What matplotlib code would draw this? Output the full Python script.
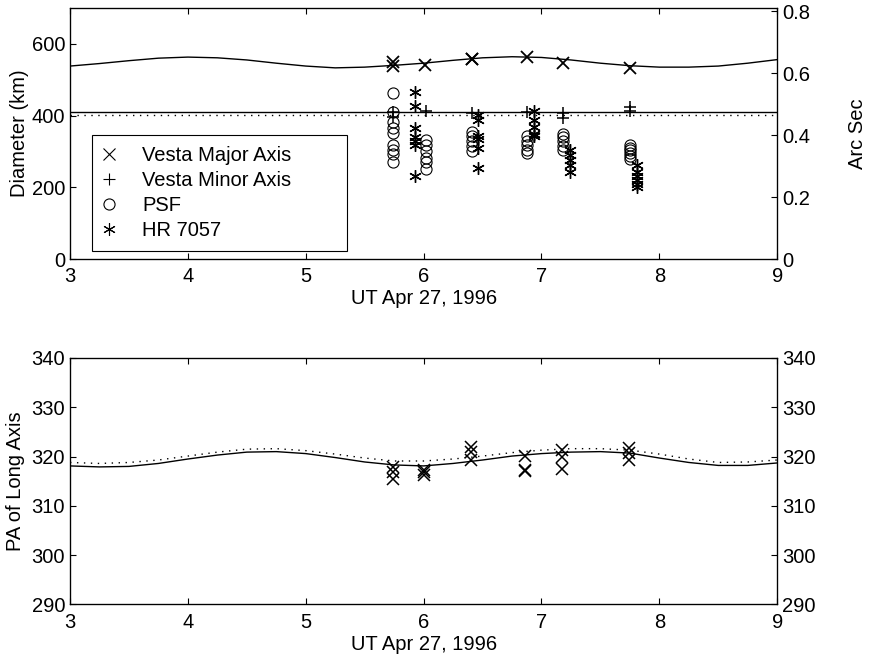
import matplotlib
matplotlib.use("Agg")
import matplotlib.pyplot as plt

plt.rcParams['font.family'] = ['Liberation Sans', 'DejaVu Sans']
plt.rcParams['font.size'] = 14.5

# ---- top panel: diameters (km) vs UT hours ----
model_x = [3.0, 3.25, 3.5, 3.75, 4.0, 4.25, 4.5, 4.75, 5.0, 5.25, 5.5, 5.75, 6.0,
           6.25, 6.5, 6.75, 7.0, 7.25, 7.5, 7.75, 8.0, 8.25, 8.5, 8.75, 9.0]
major_model = [538, 545, 553, 560, 563, 561, 555, 546, 538, 533, 535, 540, 546,
               554, 561, 564, 562, 555, 546, 539, 535, 535, 538, 546, 556]
minor_model = [409] * len(model_x)
minor_mean = [403] * len(model_x)

major_t = [5.74, 5.74, 6.01, 6.41, 6.41, 6.88, 7.18, 7.75]
major_d = [549, 539, 541, 557, 559, 564, 546, 532]

minor_t = [5.74, 5.74, 6.02, 6.41, 6.88, 7.18, 7.18, 7.75, 7.75]
minor_d = [411, 395, 414, 408, 410, 407, 393, 424, 413]

psf_t = [5.74] * 9 + [6.02] * 6 + [6.41] * 5 + [6.88] * 5 + [7.18] * 5 + [7.75] * 6
psf_d = [462, 411, 383, 364, 351, 318, 305, 292, 271,
         332, 318, 300, 283, 270, 252,
         355, 342, 330, 315, 302,
         342, 330, 318, 305, 296,
         350, 340, 328, 316, 304,
         318, 311, 303, 295, 288, 280]

hr_t = [5.93] * 7 + [6.46] * 6 + [6.94] * 5 + [7.24] * 5 + [7.81] * 6
hr_d = [467, 427, 366, 339, 328, 319, 231,
        402, 388, 343, 336, 311, 253,
        414, 388, 369, 350, 343,
        304, 290, 276, 262, 244,
        262, 244, 232, 220, 210, 200]

# ---- bottom panel: position angle of long axis ----
pa_model = [318.1, 317.9, 318.0, 318.6, 319.5, 320.3, 320.9, 321.0, 320.6, 319.8,
            318.9, 318.3, 318.1, 318.6, 319.3, 320.1, 320.6, 320.9, 321.0, 320.7,
            319.7, 318.8, 318.2, 318.2, 318.7]
pa_model2 = [318.8, 318.6, 318.8, 319.3, 320.1, 320.9, 321.5, 321.6, 321.2, 320.5,
             319.7, 319.1, 319.1, 319.5, 320.1, 320.8, 321.3, 321.6, 321.6, 321.3,
             320.5, 319.5, 318.8, 318.9, 319.3]
pa_t = [5.74, 5.74, 5.74, 6.0, 6.0, 6.0, 6.40, 6.40, 6.40, 6.86, 6.86, 6.86,
        7.17, 7.17, 7.17, 7.74, 7.74, 7.74]
pa_v = [317.8, 316.8, 315.5, 317.3, 316.8, 316.3, 322.0, 321.0, 319.4, 320.1, 317.1, 317.3,
        321.3, 320.0, 317.4, 321.8, 320.8, 319.4]

asterisk = (6, 2, 0)
xticks = [3, 4, 5, 6, 7, 8, 9]


def style_axes(ax):
    ax.set_xlim(3, 9)
    ax.set_xticks(xticks)
    ax.tick_params(direction='in', length=4, width=0.8, top=True)
    ax.tick_params(axis='x', pad=6)
    for s in ax.spines.values():
        s.set_linewidth(0.9)


fig = plt.figure(figsize=(8.72, 6.61), dpi=100)
ax1 = fig.add_axes([0.0803, 0.608, 0.811, 0.380])
ax2 = fig.add_axes([0.0803, 0.0855, 0.811, 0.373])

# top panel
ax1.plot(model_x, major_model, color='black', lw=1.0)
ax1.plot(model_x, minor_model, color='black', lw=1.0)
ax1.plot(model_x, minor_mean, color='black', lw=1.0, linestyle=(0, (1, 4)))
ax1.plot(major_t, major_d, linestyle='none', marker='x', color='black', ms=8, mew=1.3,
         label='Vesta Major Axis')
ax1.plot(minor_t, minor_d, linestyle='none', marker='+', color='black', ms=9, mew=1.1,
         label='Vesta Minor Axis')
ax1.plot(psf_t, psf_d, linestyle='none', marker='o', mfc='none', mec='black', ms=8, mew=0.8,
         label='PSF')
ax1.plot(hr_t, hr_d, linestyle='none', marker=asterisk, color='black', ms=9, mew=1.0,
         label='HR 7057')
style_axes(ax1)
ax1.set_ylim(0, 700)
ax1.set_yticks([0, 200, 400, 600])
ax1.set_ylabel('Diameter (km)')
ax1.yaxis.set_label_coords(-0.058, 0.5)
ax1.set_xlabel('UT Apr 27, 1996', labelpad=2)

leg = ax1.legend(loc='lower left', bbox_to_anchor=(0.031, 0.032, 0.36, 0.5),
                 mode='expand', borderaxespad=0,
                 frameon=True, fancybox=False, framealpha=1, edgecolor='black',
                 borderpad=0.55, labelspacing=0.3, handlelength=0.6, handletextpad=1.35)
leg.get_frame().set_linewidth(0.8)
for h in leg.legend_handles:
    h.set_markeredgewidth(0.8)

ax1r = ax1.twinx()
ax1r.set_ylim(0, 0.81)
ax1r.set_yticks([0, 0.2, 0.4, 0.6, 0.8])
ax1r.set_yticklabels(['0', '0.2', '0.4', '0.6', '0.8'])
ax1r.tick_params(direction='in', length=4, width=0.8)
ax1r.set_ylabel('Arc Sec')
ax1r.yaxis.set_label_coords(1.100, 0.5)

# bottom panel
ax2.plot(model_x, pa_model, color='black', lw=1.0)
ax2.plot(model_x, pa_model2, color='black', lw=1.0, linestyle=(0, (1, 4)))
ax2.plot(pa_t, pa_v, linestyle='none', marker='x', color='black', ms=8, mew=1.1)
style_axes(ax2)
ax2.set_ylim(290, 340)
ax2.set_yticks([290, 300, 310, 320, 330, 340])
ax2.set_ylabel('PA of Long Axis')
ax2.yaxis.set_label_coords(-0.063, 0.5)
ax2.set_xlabel('UT Apr 27, 1996', labelpad=2)

ax2r = ax2.twinx()
ax2r.set_ylim(290, 340)
ax2r.set_yticks([290, 300, 310, 320, 330, 340])
ax2r.tick_params(direction='in', length=4, width=0.8)

fig.savefig('out.png', dpi=100)
